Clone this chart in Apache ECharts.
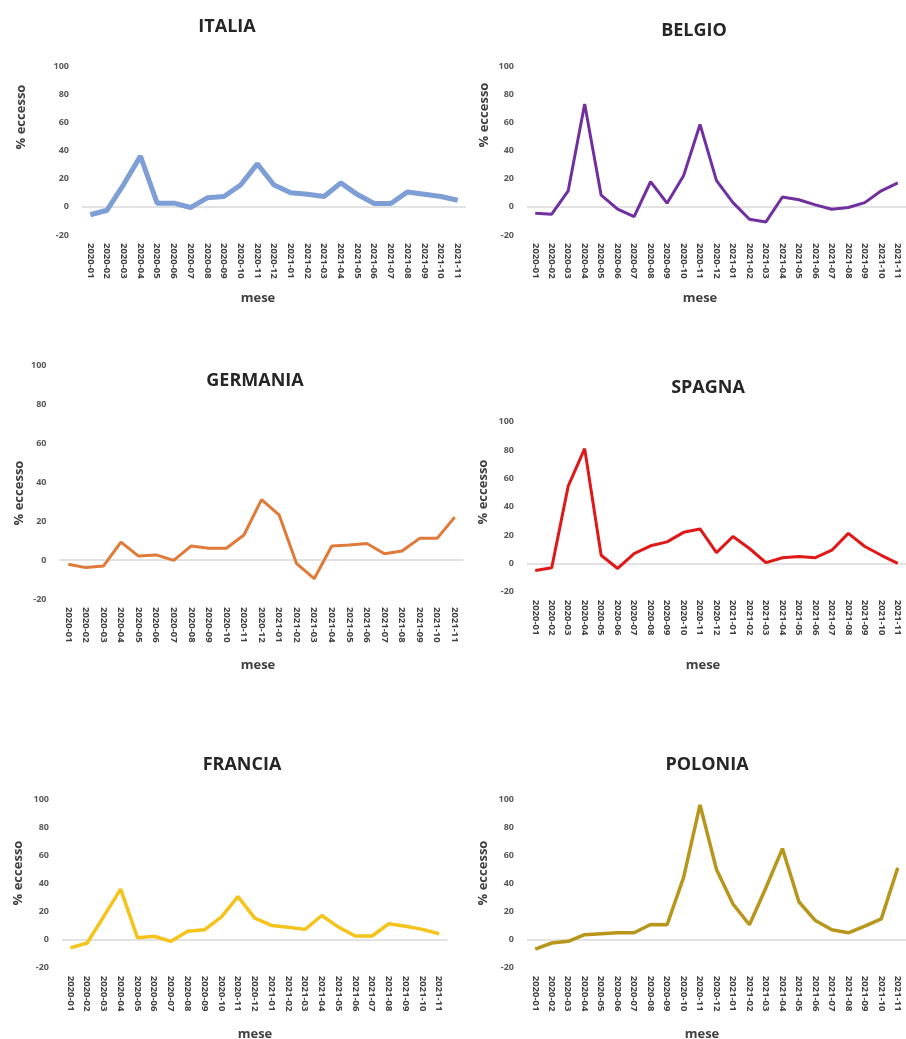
<!DOCTYPE html>
<html>
<head>
<meta charset="utf-8">
<script src="https://cdn.jsdelivr.net/npm/echarts@6/dist/echarts.min.js"></script>
<style>
html,body{margin:0;padding:0;background:#fff;}
#chart{width:906px;height:1039px;}
</style>
</head>
<body>
<div id="chart"></div>
<script>
const months = ['2020-01','2020-02','2020-03','2020-04','2020-05','2020-06','2020-07','2020-08','2020-09','2020-10','2020-11','2020-12',
  '2021-01','2021-02','2021-03','2021-04','2021-05','2021-06','2021-07','2021-08','2021-09','2021-10','2021-11'];
const italia   = [-5.6,-2.4,16,36,2.6,2.6,-0.5,6.4,7.3,15.5,30.5,15.5,10,9,7.3,17,8.7,2.4,2.4,10.6,9,7.3,4.7];
const belgio   = [-4.5,-5.2,11.4,73,8.3,-1.7,-6.9,17.8,2.6,22,58.5,18.6,3,-8.8,-10.7,7,5,1.4,-1.7,-0.5,3,11.4,17];
const germania = [-2.2,-3.9,-3.1,9.2,2,2.6,-0.2,7.2,6,6,12.8,31,23.2,-1.9,-9.6,7.2,7.7,8.5,3.2,4.6,11.1,11.1,22];
const spagna   = [-5,-3.1,54.5,81,5.7,-3.6,6.9,12.4,15.2,21.9,24.3,7.6,19,10.5,0.5,4,4.8,4,9.3,21.2,11.9,5.7,0];
const francia  = [-5.9,-2.4,16.7,36,1.4,2.4,-1.2,5.9,7,16,30.6,15.3,10.1,8.9,7.3,17.2,8.9,2.6,2.6,11.3,9.6,7.3,4.2];
const polonia  = [-6.8,-2.4,-1.2,3.5,4.2,4.9,4.9,10.8,10.6,44.2,96,50,25.4,10.6,37,64.9,27,13.6,7,4.9,9.6,14.8,51.2];
const countries = ['ITALIA','BELGIO','GERMANIA','SPAGNA','FRANCIA','POLONIA'];
const yMin = -20, yMax = 100, yStep = 20;
const yName = '% eccesso';
const xName = 'mese';

const seriesData = [italia, belgio, germania, spagna, francia, polonia];
const panels = [
  {grid:{left:82, top:66, width:384, height:169}, color:'#7e9ed6', lw:5, title:[227,27], yn:[21,117], xn:[258,298]},
  {grid:{left:527, top:66, width:384, height:169}, color:'#7030a0', lw:3, title:[694,31], yn:[484,115], xn:[700,298]},
  {grid:{left:59.5, top:365, width:404, height:234}, color:'#e07a38', lw:3, title:[255,381], yn:[19,493], xn:[258,665]},
  {grid:{left:527, top:421.7, width:384, height:170}, color:'#e01818', lw:3, title:[708,388], yn:[483,492], xn:[703,665]},
  {grid:{left:62, top:799.3, width:385.5, height:168.4}, color:'#f4c31c', lw:3.5, title:[242,765], yn:[18,873], xn:[255,1034]},
  {grid:{left:527, top:799.3, width:384, height:168.4}, color:'#b8961c', lw:3.5, title:[707,765], yn:[483,873], xn:[702,1034]}
];

const nTicks = (yMax - yMin) / yStep + 1;
const splitColors = [];
for (let i = 0; i < nTicks; i++) splitColors.push(yMin + i*yStep === 0 ? '#d9d9d9' : 'rgba(0,0,0,0)');

const grids = [], xAxes = [], yAxes = [], series = [], graphics = [];
panels.forEach((p, i) => {
  grids.push(Object.assign({containLabel:false}, p.grid));
  xAxes.push({
    type:'category', gridIndex:i, data:months, boundaryGap:true,
    axisLine:{show:false}, axisTick:{show:false}, splitLine:{show:false},
    axisLabel:{rotate:-90, interval:0, margin:8, color:'#404040', fontSize:9.5, fontWeight:'bold', fontFamily:'Open Sans'}
  });
  yAxes.push({
    type:'value', gridIndex:i, min:yMin, max:yMax, interval:yStep,
    axisLine:{show:false}, axisTick:{show:false},
    splitLine:{show:true, lineStyle:{color:splitColors, width:1.5}},
    axisLabel:{margin:13, color:'#595959', fontSize:9, fontWeight:'bold', fontFamily:'Open Sans'}
  });
  series.push({
    type:'line', xAxisIndex:i, yAxisIndex:i, data:seriesData[i],
    symbol:'none', lineStyle:{color:p.color, width:p.lw}, itemStyle:{color:p.color}
  });
  graphics.push({type:'text', x:p.title[0], y:p.title[1],
    style:{text:countries[i], textAlign:'center', textVerticalAlign:'middle', fill:'#262626', font:'bold 18px "Open Sans"'}});
  graphics.push({type:'text', x:p.yn[0], y:p.yn[1], rotation:Math.PI/2,
    style:{text:yName, textAlign:'center', textVerticalAlign:'middle', fill:'#404040', font:'bold 13px "Open Sans"'}});
  graphics.push({type:'text', x:p.xn[0], y:p.xn[1],
    style:{text:xName, textAlign:'center', textVerticalAlign:'middle', fill:'#404040', font:'bold 13px "Open Sans"'}});
});

const chart = echarts.init(document.getElementById('chart'), null, {renderer:'canvas'});
chart.setOption({
  animation:false,
  backgroundColor:'#ffffff',
  grid:grids, xAxis:xAxes, yAxis:yAxes, series:series, graphic:graphics
});
</script>
</body>
</html>
